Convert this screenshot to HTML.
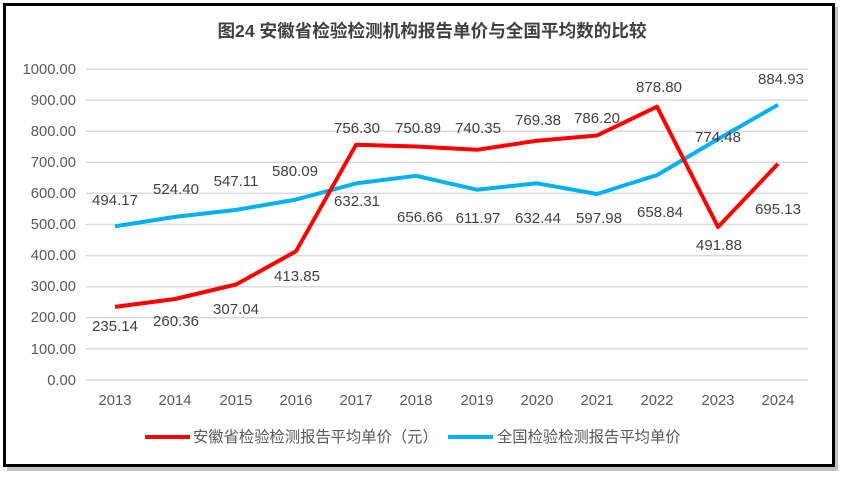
<!DOCTYPE html>
<html><head><meta charset="utf-8"><style>
html,body{margin:0;padding:0;background:#fff;}
svg{display:block;font-family:"Liberation Sans","Noto Sans CJK SC",sans-serif;}
</style></head><body>
<svg width="845" height="477" viewBox="0 0 845 477">
<rect x="7" y="7" width="831" height="464" fill="#9a9a9a" opacity="0.6"/>
<rect x="4.5" y="4.5" width="829" height="461" fill="#fff" stroke="#000" stroke-width="3"/>
<text x="432" y="37" text-anchor="middle" font-size="17.6" font-weight="bold" fill="#404040">图24 安徽省检验检测机构报告单价与全国平均数的比较</text>
<g stroke="#d9d9d9" stroke-width="1.5">
<line x1="86" x2="808" y1="69" y2="69"/><line x1="86" x2="808" y1="100.1" y2="100.1"/><line x1="86" x2="808" y1="131.2" y2="131.2"/><line x1="86" x2="808" y1="162.3" y2="162.3"/><line x1="86" x2="808" y1="193.4" y2="193.4"/><line x1="86" x2="808" y1="224.5" y2="224.5"/><line x1="86" x2="808" y1="255.6" y2="255.6"/><line x1="86" x2="808" y1="286.7" y2="286.7"/><line x1="86" x2="808" y1="317.8" y2="317.8"/><line x1="86" x2="808" y1="348.9" y2="348.9"/><line x1="86" x2="808" y1="380" y2="380"/>
</g>
<g font-size="14.8" fill="#595959" text-anchor="end">
<text x="76" y="74">1000.00</text><text x="76" y="105">900.00</text><text x="76" y="136">800.00</text><text x="76" y="167">700.00</text><text x="76" y="198">600.00</text><text x="76" y="229">500.00</text><text x="76" y="260">400.00</text><text x="76" y="291">300.00</text><text x="76" y="322">200.00</text><text x="76" y="354">100.00</text><text x="76" y="385">0.00</text>
</g>
<g font-size="14.8" fill="#595959" text-anchor="middle">
<text x="115" y="405">2013</text><text x="175" y="405">2014</text><text x="236" y="405">2015</text><text x="296" y="405">2016</text><text x="356" y="405">2017</text><text x="416" y="405">2018</text><text x="477" y="405">2019</text><text x="537" y="405">2020</text><text x="597" y="405">2021</text><text x="657" y="405">2022</text><text x="718" y="405">2023</text><text x="778" y="405">2024</text>
</g>
<polyline fill="none" stroke="#00b0f0" stroke-width="4" stroke-linejoin="round" points="115,226.3 175,216.9 236,209.9 296,199.6 356,183.4 416,175.8 477,189.7 537,183.3 597,194.0 657,175.1 718,139.1 778,104.8"/>
<polyline fill="none" stroke="#ff0000" stroke-width="4" stroke-linejoin="round" points="115,306.9 175,299.0 236,284.5 296,251.3 356,144.8 416,146.5 477,149.8 537,140.7 597,135.5 657,106.7 718,227.0 778,163.8"/>
<g font-size="15" fill="#404040" text-anchor="middle">
<text x="115" y="205">494.17</text><text x="176" y="194">524.40</text><text x="236" y="186">547.11</text><text x="295" y="176">580.09</text><text x="357" y="206">632.31</text><text x="420" y="222">656.66</text><text x="478" y="223">611.97</text><text x="538" y="223">632.44</text><text x="599" y="223">597.98</text><text x="660" y="217">658.84</text><text x="718" y="142">774.48</text><text x="781" y="84">884.93</text>
<text x="115" y="331">235.14</text><text x="176" y="326">260.36</text><text x="236" y="314">307.04</text><text x="297" y="281">413.85</text><text x="357" y="133">756.30</text><text x="418" y="133">750.89</text><text x="478" y="133">740.35</text><text x="538" y="125">769.38</text><text x="597" y="123">786.20</text><text x="659" y="92">878.80</text><text x="719" y="250">491.88</text><text x="778" y="214">695.13</text>
</g>
<line x1="145" x2="190" y1="437" y2="437" stroke="#ff0000" stroke-width="4"/>
<text x="193" y="442" font-size="15.3" fill="#595959">安徽省检验检测报告平均单价（元）</text>
<line x1="448" x2="493" y1="437" y2="437" stroke="#00b0f0" stroke-width="4"/>
<text x="497" y="442" font-size="15.3" fill="#595959">全国检验检测报告平均单价</text>
</svg>
</body></html>
